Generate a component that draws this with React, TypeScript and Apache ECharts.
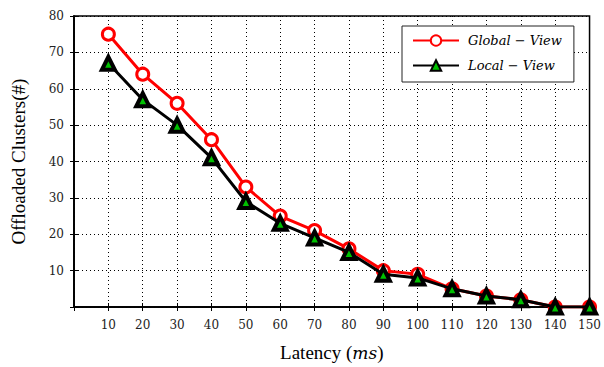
import React, { useEffect, useRef } from "react";
import * as echarts from "echarts";

const latency = [10, 20, 30, 40, 50, 60, 70, 80, 90, 100, 110, 120, 130, 140, 150];
const globalView = [75, 64, 56, 46, 33, 25, 21, 16, 10, 9, 5, 3, 2, 0, 0];
const localView = [67, 57, 50, 41, 29, 23, 19, 15, 9, 8, 5, 3, 2, 0, 0];
const seriesNames = ["Global − View", "Local − View"];

export default function App() {
  const ref = useRef<HTMLDivElement>(null);
  useEffect(() => {
    if (!ref.current) return;
    const chart = echarts.init(ref.current, null, { renderer: "svg" });
    const tickFont = { fontFamily: "DejaVu Serif", fontSize: 12, color: "#222" };
    const split = { show: true, lineStyle: { type: [1, 3], color: "#000", width: 1 } };
    chart.setOption({
      animation: false,
      backgroundColor: "#fff",
      grid: { left: 74, right: 7, top: 16, bottom: 56, show: true, borderColor: "#000", borderWidth: 1.5, backgroundColor: "transparent" },
      legend: {
        left: 402,
        top: 26,
        orient: "vertical",
        backgroundColor: "#fff",
        borderColor: "#222",
        borderWidth: 1,
        borderRadius: 0,
        padding: [8, 12, 10, 10],
        itemWidth: 46,
        itemHeight: 13,
        itemGap: 12,
        data: seriesNames,
        textStyle: { fontFamily: "DejaVu Serif", fontStyle: "italic", fontSize: 13, color: "#000", padding: [0, 0, 0, 4] },
      },
      xAxis: [
        {
          type: "value",
          min: 0,
          max: 150,
          interval: 10,
          name: "{a|Latency (}{b|ms}{a|)}",
          nameLocation: "middle",
          nameGap: 36,
          nameTextStyle: {
            fontFamily: "Liberation Serif",
            fontSize: 19,
            color: "#000",
            rich: {
              a: { fontFamily: "Liberation Serif", fontSize: 19, color: "#000" },
              b: { fontFamily: "DejaVu Serif", fontStyle: "italic", fontSize: 17, color: "#000" },
            },
          },
          axisLine: { show: true, lineStyle: { color: "#000", width: 1.5 } },
          axisTick: { show: true, inside: true, length: 4, lineStyle: { color: "#000" } },
          axisLabel: { ...tickFont, margin: 12, formatter: (v: number) => (v === 0 ? "" : String(v)) },
          splitLine: split,
        },
        {
          type: "value",
          position: "top",
          min: 0,
          max: 150,
          interval: 10,
          axisLine: { show: true, lineStyle: { color: "#000", width: 1.5 } },
          axisTick: { show: true, inside: true, length: 4, lineStyle: { color: "#000" } },
          axisLabel: { show: false },
          splitLine: { show: false },
        },
      ],
      yAxis: [
        {
          type: "value",
          min: 0,
          max: 80,
          interval: 10,
          name: "Offloaded Clusters(#)",
          nameLocation: "middle",
          nameGap: 46,
          nameTextStyle: { fontFamily: "Liberation Serif", fontSize: 19, color: "#000" },
          axisLine: { show: true, lineStyle: { color: "#000", width: 1.5 } },
          axisTick: { show: true, inside: true, length: 4, lineStyle: { color: "#000" } },
          axisLabel: { ...tickFont, margin: 10, formatter: (v: number) => (v === 0 ? "" : String(v)) },
          splitLine: split,
        },
        {
          type: "value",
          position: "right",
          min: 0,
          max: 80,
          interval: 10,
          axisLine: { show: true, lineStyle: { color: "#000", width: 1.5 } },
          axisTick: { show: true, inside: true, length: 4, lineStyle: { color: "#000" } },
          axisLabel: { show: false },
          splitLine: { show: false },
        },
      ],
      series: [
        {
          name: seriesNames[0],
          type: "line",
          data: latency.map((x, i) => [x, globalView[i]]),
          symbol: "circle",
          symbolSize: 12,
          lineStyle: { color: "#ff0000", width: 3 },
          itemStyle: { color: "#fff", borderColor: "#ff0000", borderWidth: 3 },
          z: 2,
        },
        {
          name: seriesNames[1],
          type: "line",
          data: latency.map((x, i) => [x, localView[i]]),
          symbol: "triangle",
          symbolSize: 13,
          lineStyle: { color: "#000", width: 3 },
          itemStyle: { color: "#00c000", borderColor: "#000", borderWidth: 4 },
          z: 3,
        },
      ],
    });
    return () => chart.dispose();
  }, []);
  return <div ref={ref} style={{ width: 604, height: 367, position: "absolute", left: 0, top: 0 }} />;
}
